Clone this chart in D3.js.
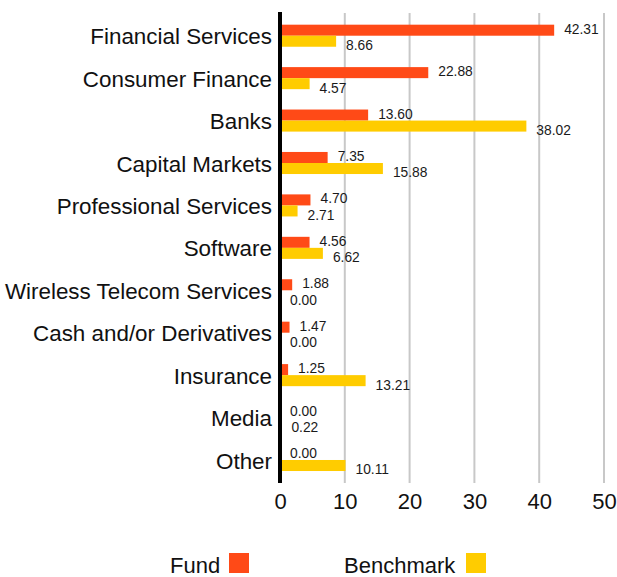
<!DOCTYPE html>
<html>
<head>
<meta charset="utf-8">
<script src="https://cdn.jsdelivr.net/npm/d3@7"></script>
<style>
  html, body { margin: 0; padding: 0; background: #fff; }
  svg { display: block; font-family: "Liberation Sans", Arial, sans-serif; }
</style>
</head>
<body>
<svg id="chart" width="617" height="577"></svg>
<script>
const categories = [
  "Financial Services", "Consumer Finance", "Banks", "Capital Markets",
  "Professional Services", "Software", "Wireless Telecom Services",
  "Cash and/or Derivatives", "Insurance", "Media", "Other"
];
const fundValues      = [42.31, 22.88, 13.60, 7.35, 4.70, 4.56, 1.88, 1.47, 1.25, 0.00, 0.00];
const benchmarkValues = [8.66, 4.57, 38.02, 15.88, 2.71, 6.62, 0.00, 0.00, 13.21, 0.22, 10.11];
const xTicks = [0, 10, 20, 30, 40, 50];
const seriesNames = ["Fund", "Benchmark"];
const seriesColors = ["#FF4A17", "#FFCC00"];

const svg = d3.select("#chart");

const x = d3.scaleLinear().domain([0, 50]).range([280, 604]);
const y = d3.scaleBand().domain(categories).range([14.5, 481.2])
  .paddingInner(0.48).paddingOuter(0.24);
const bw = y.bandwidth();
const half = bw / 2;

// gridlines
svg.append("g").selectAll("line").data(xTicks.filter(t => t > 0)).join("line")
  .attr("x1", d => x(d)).attr("x2", d => x(d))
  .attr("y1", 13).attr("y2", 483)
  .attr("stroke", "#c8c8c8").attr("stroke-width", 2);

const rows = categories.map((c, i) => ({ c, fund: fundValues[i], bench: benchmarkValues[i] }));

// bars
const g = svg.append("g");
g.selectAll("rect.fund").data(rows).join("rect").attr("class", "fund")
  .attr("x", x(0)).attr("y", d => y(d.c))
  .attr("width", d => x(d.fund) - x(0)).attr("height", half)
  .attr("fill", seriesColors[0]);
g.selectAll("rect.bench").data(rows).join("rect").attr("class", "bench")
  .attr("x", x(0)).attr("y", d => y(d.c) + half)
  .attr("width", d => x(d.bench) - x(0)).attr("height", half)
  .attr("fill", seriesColors[1]);

// value labels
g.selectAll("text.fl").data(rows).join("text").attr("class", "fl")
  .attr("x", d => x(d.fund) + 10).attr("y", d => y(d.c) + half - 2)
  .attr("font-size", 13.8).attr("fill", "#1a1a1a")
  .text(d => d.fund.toFixed(2));
g.selectAll("text.bl").data(rows).join("text").attr("class", "bl")
  .attr("x", d => x(d.bench) + 10).attr("y", d => y(d.c) + half + 14.5)
  .attr("font-size", 13.8).attr("fill", "#1a1a1a")
  .text(d => d.bench.toFixed(2));

// y axis line
svg.append("line").attr("x1", 280).attr("x2", 280).attr("y1", 12).attr("y2", 483)
  .attr("stroke", "#000").attr("stroke-width", 4);

// category labels
svg.append("g").selectAll("text").data(categories).join("text")
  .attr("x", 272).attr("y", d => y(d) + half + 8.6)
  .attr("text-anchor", "end").attr("font-size", 22.4).attr("fill", "#111")
  .text(d => d);

// x axis tick labels
const xAxis = d3.axisBottom(x).tickValues(xTicks).tickSize(0).tickPadding(0)
  .tickFormat(d3.format("d"));
const xg = svg.append("g").call(xAxis);
xg.select(".domain").remove();
xg.selectAll("text").attr("y", 509).attr("dy", null)
  .attr("font-size", 22).attr("fill", "#111")
  .attr("font-family", "Liberation Sans, Arial, sans-serif");

// legend
const legendX = [170, 344];
const swatchX = [229, 466];
const lg = svg.append("g");
lg.selectAll("text").data(seriesNames).join("text")
  .attr("x", (d, i) => legendX[i]).attr("y", 572.7)
  .attr("font-size", 22).attr("fill", "#111").text(d => d);
lg.selectAll("rect").data(seriesNames).join("rect")
  .attr("x", (d, i) => swatchX[i]).attr("y", 553)
  .attr("width", 20).attr("height", 20)
  .attr("fill", (d, i) => seriesColors[i]);
</script>
</body>
</html>
